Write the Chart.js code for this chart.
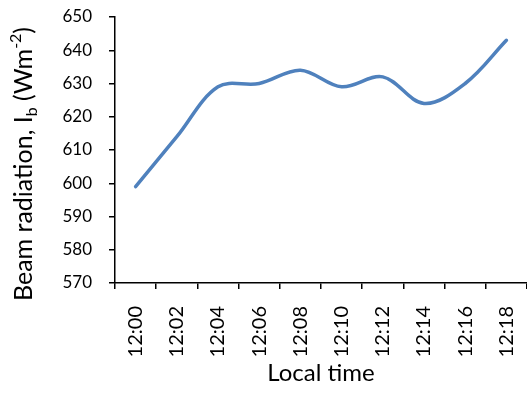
<!DOCTYPE html>
<html>
<head>
<meta charset="utf-8">
<script src="https://cdn.jsdelivr.net/npm/chart.js@4/dist/chart.umd.min.js"></script>
<style>
  html, body { margin: 0; padding: 0; background: #ffffff; }
  #wrap { width: 527px; height: 416px; }
</style>
</head>
<body>
<div id="wrap"><canvas id="c" width="527" height="416"></canvas></div>
<script>
// Local time of each reading (every two minutes)
const times = ['12:00', '12:02', '12:04', '12:06', '12:08', '12:10', '12:12', '12:14', '12:16', '12:18'];
// Beam radiation I_b in W/m²
const beamRadiation = [599, 614, 629, 630, 634, 629, 632, 624, 630, 643];
// Value axis range and step
const yMin = 570;
const yMax = 650;
const yStep = 10;

const FONT = 'Lato, "Open Sans", sans-serif';

// Rotated y-axis title with subscript and superscript parts
const yTitlePlugin = {
  id: 'yTitle',
  afterDraw(chart) {
    const ctx = chart.ctx;
    const parts = [
      { t: 'Beam radiation, I', size: 25, shift: 0 },
      { t: 'b', size: 16, shift: 5 },
      { t: ' (Wm', size: 25, shift: 0 },
      { t: '-2', size: 16, shift: -11 },
      { t: ')', size: 25, shift: 0 }
    ];
    ctx.save();
    let total = 0;
    parts.forEach(p => {
      ctx.font = p.size + 'px ' + FONT;
      p.w = ctx.measureText(p.t).width;
      total += p.w;
    });
    const cy = 164;
    const baseX = 32;
    ctx.translate(baseX, cy);
    ctx.rotate(-Math.PI / 2);
    ctx.fillStyle = '#000000';
    ctx.textBaseline = 'alphabetic';
    ctx.textAlign = 'left';
    let x = -total / 2;
    parts.forEach(p => {
      ctx.font = p.size + 'px ' + FONT;
      ctx.fillText(p.t, x, p.shift);
      x += p.w;
    });
    ctx.restore();
  }
};

new Chart(document.getElementById('c'), {
  type: 'line',
  data: {
    labels: times,
    datasets: [{
      data: beamRadiation,
      borderColor: '#4F81BD',
      borderWidth: 3.5,
      pointRadius: 0,
      fill: false,
      tension: 0.35,
      borderCapStyle: 'round',
      borderJoinStyle: 'round'
    }]
  },
  options: {
    responsive: false,
    animation: false,
    devicePixelRatio: 1,
    layout: { padding: { top: 17, right: 0, left: 0, bottom: 0 } },
    plugins: { legend: { display: false }, tooltip: { enabled: false } },
    scales: {
      x: {
        type: 'category',
        offset: true,
        border: { display: true, color: '#000000', width: 1.5 },
        grid: {
          offset: true,
          drawOnChartArea: false,
          drawTicks: true,
          tickLength: 6,
          color: '#000000',
          lineWidth: 1.5
        },
        ticks: {
          autoSkip: false,
          minRotation: 90,
          maxRotation: 90,
          padding: 17,
          color: '#000000',
          font: { family: FONT, size: 20 }
        },
        title: {
          display: true,
          text: 'Local time',
          color: '#000000',
          font: { family: FONT, size: 24 },
          padding: { top: 0, bottom: 28 }
        },
        afterFit(scale) {
          scale.height = 133;
          scale.paddingLeft = 0;
          scale.paddingRight = 0;
        }
      },
      y: {
        min: yMin,
        max: yMax,
        border: { display: true, color: '#000000', width: 1.5 },
        grid: {
          drawOnChartArea: false,
          drawTicks: true,
          tickLength: 6,
          color: '#000000',
          lineWidth: 1.5
        },
        ticks: {
          stepSize: yStep,
          padding: 17,
          color: '#000000',
          font: { family: FONT, size: 17 }
        },
        afterFit(scale) {
          scale.width = 115;
          scale.paddingTop = 0;
          scale.paddingBottom = 0;
        }
      }
    }
  },
  plugins: [yTitlePlugin]
});
</script>
</body>
</html>
